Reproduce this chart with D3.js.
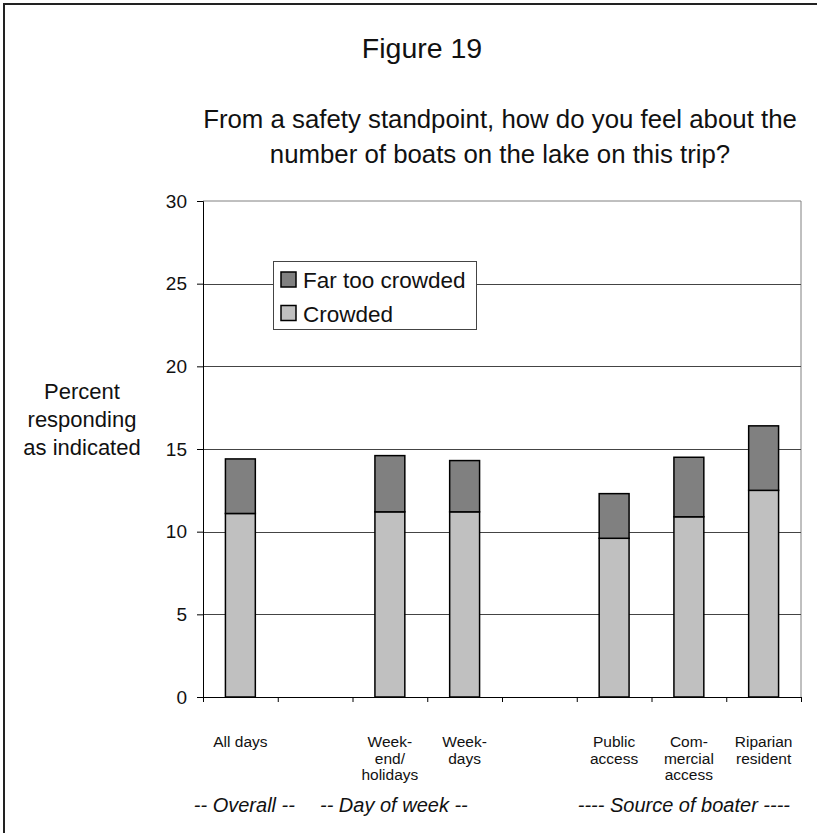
<!DOCTYPE html>
<html>
<head>
<meta charset="utf-8">
<script src="https://cdn.jsdelivr.net/npm/d3@7"></script>
<style>
  html, body { margin: 0; padding: 0; background: #fff; }
  svg { display: block; font-family: Arial, "Liberation Sans", sans-serif; }
</style>
</head>
<body>
<svg id="chart" width="817" height="833"></svg>
<script>
// Categories (empty entries are spacer slots between groups)
const categories = ["All days", "gap1", "Week-end/holidays", "Week-days", "gap2", "Public access", "Commercial access", "Riparian resident"];
const categoryLines = [["All days"], [], ["Week-", "end/", "holidays"], ["Week-", "days"], [], ["Public", "access"], ["Com-", "mercial", "access"], ["Riparian", "resident"]];
// Percent responding, stacked: Crowded at the bottom, Far too crowded on top
const crowded = [11.1, null, 11.2, 11.2, null, 9.6, 10.9, 12.5];
const farTooCrowded = [3.3, null, 3.4, 3.1, null, 2.7, 3.6, 3.9];
const yTicks = [0, 5, 10, 15, 20, 25, 30];
const seriesNames = ["Far too crowded", "Crowded"];
const groupLabels = ["-- Overall --", "-- Day of week --", "---- Source of boater ----"];
const groupAnchors = ["All days", "Week-end/holidays", "Commercial access"];

const colors = { "Far too crowded": "#808080", "Crowded": "#c0c0c0" };

const svg = d3.select("#chart");
const plot = { left: 203, right: 801, top: 201, bottom: 697 };

const x = d3.scaleBand().domain(categories).range([plot.left, plot.right]).paddingInner(0.6).paddingOuter(0.3);
const slot = d3.scaleLinear().domain([0, categories.length]).range([plot.left, plot.right]);
const y = d3.scaleLinear().domain([0, 30]).range([plot.bottom, plot.top]);

// Outer frame
svg.append("path")
  .attr("d", `M4,833 V4 H817`)
  .attr("fill", "none").attr("stroke", "#222").attr("stroke-width", 2);

// Titles
svg.append("text").attr("x", 422).attr("y", 58).attr("text-anchor", "middle")
  .attr("font-size", 28.5).attr("fill", "#111").text("Figure 19");
svg.append("text").attr("x", 500).attr("y", 128).attr("text-anchor", "middle")
  .attr("font-size", 25.8).attr("fill", "#111").text("From a safety standpoint, how do you feel about the");
svg.append("text").attr("x", 500).attr("y", 163).attr("text-anchor", "middle")
  .attr("font-size", 25.8).attr("fill", "#111").text("number of boats on the lake on this trip?");

// Plot border (top/right)
svg.append("path")
  .attr("d", `M${plot.left},${plot.top} H${plot.right} V${plot.bottom}`)
  .attr("fill", "none").attr("stroke", "#808080").attr("stroke-width", 1);

// Gridlines
svg.append("g").selectAll("line").data(yTicks.filter(d => d > 0 && d < 30)).join("line")
  .attr("x1", plot.left).attr("x2", plot.right)
  .attr("y1", d => Math.round(y(d)) + 0.5).attr("y2", d => Math.round(y(d)) + 0.5)
  .attr("stroke", "#444").attr("stroke-width", 1);

// Y axis
const yAxis = svg.append("g").attr("transform", `translate(${plot.left},0)`)
  .call(d3.axisLeft(y).tickValues(yTicks).tickSize(6).tickPadding(10));
yAxis.select(".domain").attr("stroke", "#000");
yAxis.selectAll(".tick line").attr("stroke", "#000");
yAxis.selectAll(".tick text").attr("font-size", 19).attr("fill", "#111").attr("font-family", "Arial, 'Liberation Sans', sans-serif");

// Y axis title
const yTitle = svg.append("text").attr("text-anchor", "middle").attr("font-size", 22).attr("fill", "#111");
["Percent", "responding", "as indicated"].forEach((t, i) => {
  yTitle.append("tspan").attr("x", 82).attr("y", 399 + i * 28).text(t);
});

// Stacked bars
const stackData = categories.map((c, i) => ({ cat: c, "Crowded": crowded[i], "Far too crowded": farTooCrowded[i] }))
  .filter(d => d["Crowded"] != null);
const stack = d3.stack().keys(["Crowded", "Far too crowded"])(stackData);
svg.append("g").selectAll("g").data(stack).join("g")
  .attr("fill", s => colors[s.key])
  .selectAll("rect").data(s => s).join("rect")
  .attr("x", d => x(d.data.cat))
  .attr("width", x.bandwidth())
  .attr("y", d => y(d[1]))
  .attr("height", d => y(d[0]) - y(d[1]))
  .attr("stroke", "#000").attr("stroke-width", 1.5);

// X axis with ticks at slot boundaries
const xAxis = svg.append("g").attr("transform", `translate(0,${plot.bottom})`)
  .call(d3.axisBottom(slot).tickValues(d3.range(categories.length + 1)).tickSize(5).tickFormat(""));
xAxis.select(".domain").attr("stroke", "#000");
xAxis.selectAll(".tick line").attr("stroke", "#000");

// Category labels
const catG = svg.append("g").attr("font-size", 15.5).attr("fill", "#111").attr("text-anchor", "middle");
categories.forEach((c, i) => {
  const t = catG.append("text");
  categoryLines[i].forEach((line, j) => {
    t.append("tspan").attr("x", x(c) + x.bandwidth() / 2).attr("y", 747 + j * 16.5).text(line);
  });
});

// Group labels
svg.append("g").attr("font-size", 20).attr("font-style", "italic").attr("fill", "#111").attr("text-anchor", "middle")
  .selectAll("text").data(groupLabels).join("text")
  .attr("x", (d, i) => x(groupAnchors[i]) + x.bandwidth() / 2 + [4, 4, -5][i])
  .attr("y", 812)
  .text(d => d);

// Legend
const legend = svg.append("g");
legend.append("rect").attr("x", 273.5).attr("y", 261.5).attr("width", 203).attr("height", 68)
  .attr("fill", "#fff").attr("stroke", "#444").attr("stroke-width", 1);
seriesNames.forEach((name, i) => {
  legend.append("rect").attr("x", 281).attr("y", 272 + i * 33.5).attr("width", 15).attr("height", 15)
    .attr("fill", colors[name]).attr("stroke", "#000").attr("stroke-width", 1.5);
  legend.append("text").attr("x", 303).attr("y", 288 + i * 33.5).attr("font-size", 22.5).attr("fill", "#111").text(name);
});
</script>
</body>
</html>
